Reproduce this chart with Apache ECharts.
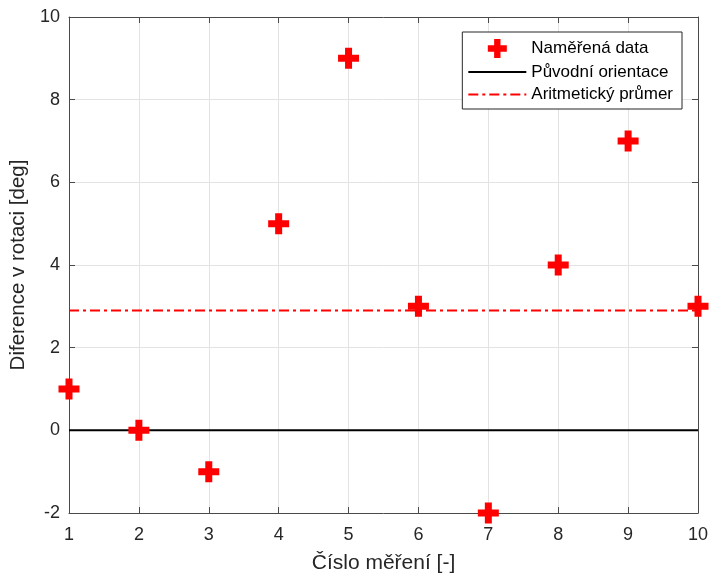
<!DOCTYPE html>
<html>
<head>
<meta charset="utf-8">
<script src="https://cdn.jsdelivr.net/npm/echarts@6/dist/echarts.min.js"></script>
<style>
html,body{margin:0;padding:0;background:#fff;}
#chart{width:710px;height:575px;}
</style>
</head>
<body>
<div id="chart"></div>
<script>
// Data
var measurementIndex = [1, 2, 3, 4, 5, 6, 7, 8, 9, 10];
var rotationDiff = [1, 0, -1, 5, 9, 3, -2, 4, 7, 3];
var originalOrientation = [0, 0];
var meanValue = [2.9, 2.9];
var lineXRange = [1, 10];
var seriesNames = ['Naměřená data', 'Původní orientace', 'Aritmetický průmer'];
var xAxisTitle = 'Číslo měření [-]';
var yAxisTitle = 'Diference v rotaci [deg]';

var FONT = 'Liberation Sans, Arial, Helvetica, sans-serif';
var AXIS_COLOR = '#4a4a4a';
var TEXT_COLOR = '#262626';
var GRID_COLOR = '#e3e3e3';
var plusPath = 'path://M7,0H14V7H21V14H14V21H7V14H0V7H7Z';

var chart = echarts.init(document.getElementById('chart'), null, {renderer: 'canvas'});

function pairs(xs, ys) { return xs.map(function (x, i) { return [x, ys[i]]; }); }

var option = {
  backgroundColor: '#ffffff',
  animation: false,
  textStyle: {fontFamily: FONT},
  grid: {left: 69, right: 12, top: 17, bottom: 62, containLabel: false, outerBoundsMode: 'none'},
  legend: {
    orient: 'vertical',
    right: 28,
    top: 32,
    data: [
      {name: seriesNames[0]},
      {name: seriesNames[1], itemStyle: {opacity: 0}},
      {name: seriesNames[2], itemStyle: {opacity: 0}}
    ],
    backgroundColor: '#ffffff',
    borderColor: '#262626',
    borderWidth: 1,
    padding: [7, 9, 6, 5],
    itemWidth: 58,
    itemHeight: 19,
    itemGap: 5.5,
    textStyle: {fontFamily: FONT, fontSize: 17, color: '#000'},
    selectedMode: false
  },
  xAxis: [{
    type: 'value', min: 1, max: 10, interval: 1,
    name: xAxisTitle, nameLocation: 'middle', nameGap: 40,
    nameTextStyle: {fontFamily: FONT, fontSize: 21, color: TEXT_COLOR},
    axisLine: {show: true, onZero: false, lineStyle: {color: AXIS_COLOR, width: 1}},
    axisTick: {show: true, inside: true, length: 6, lineStyle: {color: AXIS_COLOR}},
    axisLabel: {fontFamily: FONT, fontSize: 18, color: TEXT_COLOR, margin: 13},
    splitLine: {show: true, lineStyle: {color: GRID_COLOR, width: 1}}
  }, {
    type: 'value', min: 1, max: 10, interval: 1, position: 'top',
    axisLine: {show: true, onZero: false, lineStyle: {color: AXIS_COLOR, width: 1}},
    axisTick: {show: true, inside: true, length: 6, lineStyle: {color: AXIS_COLOR}},
    axisLabel: {show: false}, splitLine: {show: false}
  }],
  yAxis: [{
    type: 'value', min: -2, max: 10, interval: 2,
    name: yAxisTitle, nameLocation: 'middle', nameGap: 39, nameRotate: 90,
    nameTextStyle: {fontFamily: FONT, fontSize: 20.5, color: TEXT_COLOR},
    axisLine: {show: true, onZero: false, lineStyle: {color: AXIS_COLOR, width: 1}},
    axisTick: {show: true, inside: true, length: 6, lineStyle: {color: AXIS_COLOR}},
    axisLabel: {fontFamily: FONT, fontSize: 18, color: TEXT_COLOR, margin: 9},
    splitLine: {show: true, lineStyle: {color: GRID_COLOR, width: 1}}
  }, {
    type: 'value', min: -2, max: 10, interval: 2, position: 'right',
    axisLine: {show: true, onZero: false, lineStyle: {color: AXIS_COLOR, width: 1}},
    axisTick: {show: true, inside: true, length: 6, lineStyle: {color: AXIS_COLOR}},
    axisLabel: {show: false}, splitLine: {show: false}
  }],
  series: [{
    name: seriesNames[0],
    type: 'scatter',
    data: pairs(measurementIndex, rotationDiff),
    symbol: plusPath,
    symbolSize: 21,
    symbolKeepAspect: true,
    itemStyle: {color: '#ff0000', opacity: 1},
    z: 10
  }, {
    name: seriesNames[1],
    type: 'line',
    data: pairs(lineXRange, originalOrientation),
    symbol: 'none',
    lineStyle: {color: '#000000', width: 2, type: 'solid'},
    itemStyle: {color: '#000000'},
    z: 3
  }, {
    name: seriesNames[2],
    type: 'line',
    data: pairs(lineXRange, meanValue),
    symbol: 'none',
    lineStyle: {color: '#ff0000', width: 2, type: [10, 4, 3, 4]},
    itemStyle: {color: '#ff0000'},
    z: 4
  }]
};
chart.setOption(option);
</script>
</body>
</html>
